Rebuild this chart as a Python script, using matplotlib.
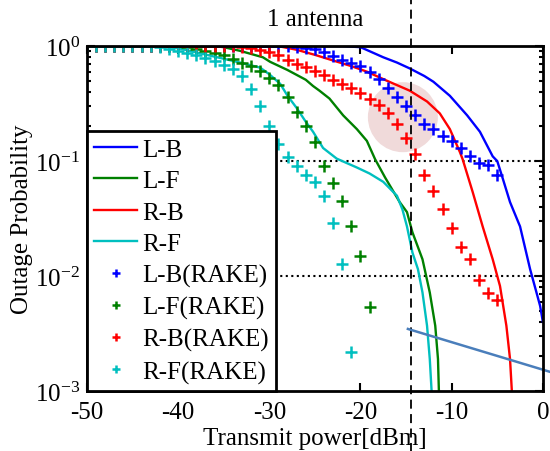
import numpy as np
import matplotlib
matplotlib.use("Agg")
import matplotlib.pyplot as plt
from matplotlib.patches import Ellipse

plt.rcParams["font.family"] = ["Liberation Serif", "DejaVu Serif"]
plt.rcParams["mathtext.fontset"] = "custom"
plt.rcParams["mathtext.rm"] = "Liberation Serif"
plt.rcParams["mathtext.it"] = "Liberation Serif:italic"
plt.rcParams["axes.unicode_minus"] = False

FS = 18

# simulated curves (Transmit power [dBm], outage probability)
lb_x = [-50, -22, -20, -17.5, -16, -14.6, -13, -12, -10.2, -8.3, -6.9, -5.5, -5, -4.5, -3.6, -2.5, -1.4, -0.7, -0.3, 0]
lb_y = [1, 1, 0.98, 0.80, 0.72, 0.64, 0.55, 0.49, 0.37, 0.25, 0.18, 0.11, 0.10, 0.075, 0.044, 0.027, 0.0115, 0.0072, 0.0055, 0.004]

lf_x = [-50, -36, -35, -33.2, -30.7, -29.9, -28, -26, -25.2, -24.5, -23.4, -21.9, -20.4, -19.3, -18.4, -17.3,
        -15.7, -14.9, -14.3, -13.2, -12.4, -11.8, -11.5, -11.4, -11.4]
lf_y = [1, 1, 0.98, 0.91, 0.80, 0.73, 0.62, 0.51, 0.45, 0.41, 0.35, 0.25, 0.19, 0.15, 0.104, 0.072,
        0.044, 0.036, 0.024, 0.014, 0.0072, 0.0037, 0.0019, 0.001, 0.0008]

rb_x = [-50, -29, -27, -25, -23, -21, -19.3, -17.1, -14.6, -12.7, -11.3, -10.2, -9.1, -8.8, -7.7, -6.6,
        -5.5, -4.7, -4.0, -3.6, -3.4, -3.4]
rb_y = [1, 1, 0.93, 0.84, 0.75, 0.67, 0.60, 0.50, 0.41, 0.33, 0.26, 0.19, 0.12, 0.104, 0.054, 0.027,
        0.014, 0.0082, 0.0037, 0.0019, 0.001, 0.0008]

rf_x = [-50, -42, -40, -36, -33.2, -31, -30, -28.8, -28, -27, -26, -25.2, -24.1, -22.6, -20.4, -19, -17.5,
        -16, -15.4, -14.9, -14.3, -13.7, -13.2, -12.7, -12.4, -12.2, -12.2]
rf_y = [1, 1, 0.96, 0.81, 0.72, 0.65, 0.57, 0.47, 0.37, 0.29, 0.22, 0.18, 0.13, 0.105, 0.088, 0.078, 0.066,
        0.05, 0.038, 0.027, 0.016, 0.0115, 0.0072, 0.0037, 0.0019, 0.001, 0.0008]

# RAKE results, one point per dB starting at -50 dBm
lb_rake = [1.0] * 22 + [0.995, 0.99, 0.97, 0.94, 0.89, 0.82, 0.76, 0.72, 0.67, 0.60, 0.52, 0.43, 0.36,
                        0.30, 0.25, 0.21, 0.19, 0.166, 0.15, 0.13, 0.11, 0.096, 0.093, 0.076]
lf_rake = [1.0] * 11 + [0.98, 0.95, 0.91, 0.88, 0.83, 0.77, 0.72, 0.67, 0.61, 0.53, 0.46, 0.36, 0.27,
                        0.20, 0.146, 0.091, 0.064, 0.045, 0.027, 0.015, 0.0054]
rb_rake = [1.0] * 17 + [0.98, 0.96, 0.93, 0.89, 0.83, 0.76, 0.70, 0.66, 0.61, 0.56, 0.51, 0.47, 0.43,
                        0.39, 0.35, 0.31, 0.26, 0.21, 0.16, 0.115, 0.076, 0.055, 0.038, 0.026, 0.018,
                        0.014, 0.0093, 0.0071, 0.0062]
rf_rake = [1.0] * 8 + [0.98, 0.95, 0.91, 0.87, 0.83, 0.79, 0.74, 0.69, 0.63, 0.55, 0.42, 0.30, 0.20,
                       0.14, 0.108, 0.09, 0.076, 0.066, 0.050, 0.029, 0.0127, 0.0022]

START = -50
marker_x = lambda v: np.arange(START, START + len(v))

# annotation bits
vline_x = -14.5
slope_x = [-14.8, 1.9]
slope_y = [10 ** -2.46, 10 ** -2.86]

BLUE, GREEN, RED, CYAN = (0, 0, 1), (0, 0.5, 0), (1, 0, 0), (0, 0.75, 0.75)

fig = plt.figure(figsize=(5.5, 4.52), dpi=100)
ax = fig.add_axes([0.158, 0.1327, 0.829, 0.763])

ax.add_patch(Ellipse((0.693, 0.794), 0.1535, 0.203, transform=ax.transAxes,
                     facecolor="#f0dada", edgecolor="none", zorder=0.5))

ax.plot(lb_x, lb_y, color=BLUE, lw=1.7, label="L-B")
ax.plot(lf_x, lf_y, color=GREEN, lw=1.7, label="L-F")
ax.plot(rb_x, rb_y, color=RED, lw=1.7, label="R-B")
ax.plot(rf_x, rf_y, color=CYAN, lw=1.7, label="R-F")

mk = dict(ls="none", marker="+", ms=9, mew=1.8)
ax.plot(marker_x(lb_rake), lb_rake, color=BLUE, label="L-B(RAKE)", **mk)
ax.plot(marker_x(lf_rake), lf_rake, color=GREEN, label="L-F(RAKE)", **mk)
ax.plot(marker_x(rb_rake), rb_rake, color=RED, label="R-B(RAKE)", **mk)
ax.plot(marker_x(rf_rake), rf_rake, color=CYAN, label="R-F(RAKE)", **mk)

ax.axhline(1e-1, color="k", ls=":", lw=1.5, zorder=1)
ax.axhline(1e-2, color="k", ls=":", lw=1.5, zorder=1)
ax.axvline(vline_x, ymin=-0.3, ymax=1.3, color="k", ls=(0, (5, 3)), lw=1.3, clip_on=False)
ax.plot(slope_x, slope_y, color="#4a7ebb", lw=1.8, clip_on=False)

ax.set_yscale("log")
ax.set_xlim(-50, 0)
ax.set_ylim(1e-3, 1)
ax.set_xticks([-50, -40, -30, -20, -10, 0])
ax.set_xlabel("Transmit power[dBm]", fontsize=FS, labelpad=3)
ax.set_ylabel("Outage Probability", fontsize=FS, labelpad=1)
ax.set_title("1 antenna", fontsize=FS, pad=15)
ax.tick_params(which="both", direction="in", top=True, right=True, labelsize=FS, width=1.5)
ax.tick_params(which="major", length=6)
ax.tick_params(which="minor", length=3)
ax.tick_params(axis="x", pad=7)
ax.tick_params(axis="y", pad=5)
for s in ax.spines.values():
    s.set_linewidth(2)

leg = ax.legend(loc="lower left", bbox_to_anchor=(0, 0), borderaxespad=0, fontsize=FS,
                fancybox=False, framealpha=1, edgecolor="k", handlelength=1.7,
                handletextpad=0.2, labelspacing=0.36, markerscale=0.7, borderpad=0.3)
leg.get_frame().set_linewidth(2)
leg.set_zorder(5)

fig.savefig("out.png", dpi=100)
